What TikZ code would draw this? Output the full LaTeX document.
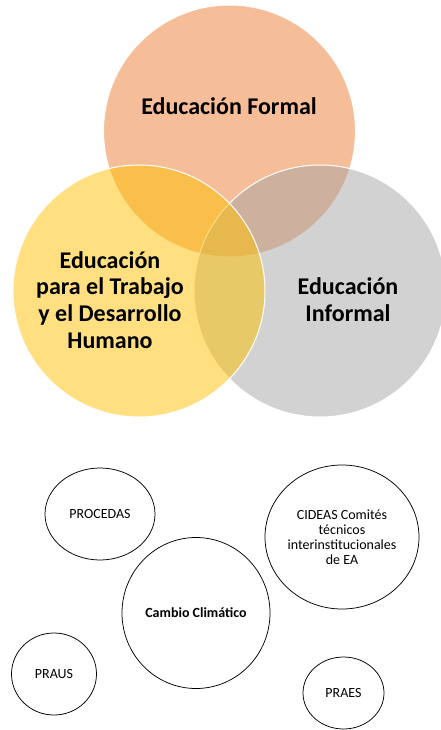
\documentclass[tikz,border=0pt]{standalone}
\usepackage{fontspec}
\setmainfont{Carlito}
\usetikzlibrary{shapes.geometric}
\definecolor{formalc}{HTML}{ED7D31}
\definecolor{informalc}{HTML}{A5A5A5}
\definecolor{trabajoc}{HTML}{FFC000}
\begin{document}
\begin{tikzpicture}[x=1pt, y=-1pt,
	venn/.style={circle, draw=white, line width=1pt, fill opacity=0.5, draw opacity=1, minimum size=252pt, inner sep=0pt},
	venntext/.style={align=center, inner sep=0pt, font=\fontsize{24}{26.7}\selectfont\bfseries},
	bubble/.style={ellipse, draw=black, line width=0.75pt, inner sep=0pt, align=center, font=\fontsize{14}{15}\selectfont}]
	\useasboundingbox (0,0) rectangle (441,730);
	
	\node [venn, fill=formalc] (formal) at (229.5,131) {};
	\node [venn, fill=informalc] (informal) at (320,291) {};
	\node [venn, fill=trabajoc] (trabajo) at (139,291) {};
	
	\node [venntext] (formaltxt) at (229,106) {Educación Formal};
	\node [venntext] (trabajotxt) at (110,300) {Educación\\para el Trabajo\\y el Desarrollo\\Humano};
	\node [venntext] (informaltxt) at (348,300) {Educación\\Informal};
	
	\node [bubble, minimum width=110pt, minimum height=92pt] (procedas) at (100,514) {PROCEDAS};
	\node [bubble, minimum width=154pt, minimum height=144pt] (cideas) at (342,537) {CIDEAS Comités\\técnicos\\interinstitucionales\\de EA};
	\node [bubble, minimum width=148pt, minimum height=151pt, font=\fontsize{14}{15}\selectfont\bfseries] (cambio) at (196,613) {Cambio Climático};
	\node [bubble, minimum width=85pt, minimum height=82pt] (praus) at (54,674) {PRAUS};
	\node [bubble, minimum width=81pt, minimum height=72pt] (praes) at (343.5,693) {PRAES};
\end{tikzpicture}
\end{document}
